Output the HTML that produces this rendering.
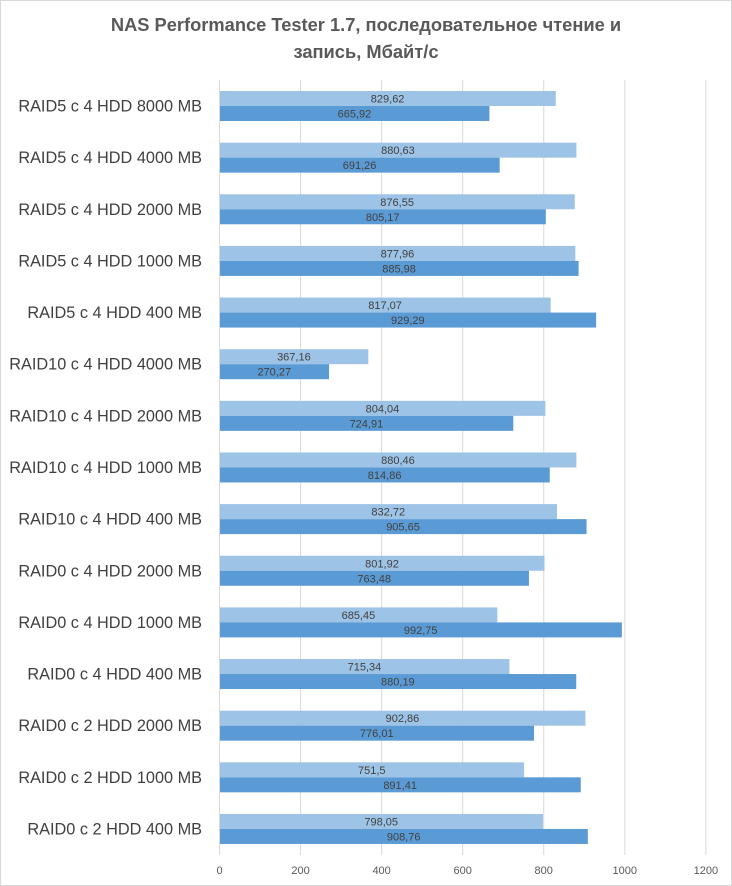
<!DOCTYPE html>
<html><head><meta charset="utf-8"><style>
html,body{margin:0;padding:0;background:#fff;}
svg{display:block;font-family:"Liberation Sans",sans-serif;}
</style></head><body>
<svg id="c" width="732" height="886" viewBox="0 0 732 886" xmlns="http://www.w3.org/2000/svg">
<rect x="0.5" y="0.5" width="731" height="885" fill="#fff" stroke="#d9d9d9"/>
<text x="366" y="31" text-anchor="middle" font-size="18.3" font-weight="bold" fill="#595959">NAS Performance Tester 1.7, последовательное чтение и</text>
<text x="366" y="58" text-anchor="middle" font-size="18.3" font-weight="bold" fill="#595959">запись, Мбайт/с</text>
</svg>
<script>
var s=document.getElementById('c'),NS='http://www.w3.org/2000/svg';
function el(t,a,txt){var e=document.createElementNS(NS,t);for(var k in a)e.setAttribute(k,a[k]);if(txt!=null)e.textContent=txt;s.appendChild(e);return e;}
var x0=219.5,sc=0.4053;
for(var v=0;v<=1200;v+=200){var x=x0+v*sc;el('line',{x1:x,y1:80,x2:x,y2:855,stroke:'#d9d9d9','stroke-width':1});
el('text',{x:x,y:874,'text-anchor':'middle','font-size':11,fill:'#595959'},String(v));}
var d=[["RAID5 с 4 HDD 8000 MB",829.62,665.92],["RAID5 с 4 HDD 4000 MB",880.63,691.26],["RAID5 с 4 HDD 2000 MB",876.55,805.17],["RAID5 с 4 HDD 1000 MB",877.96,885.98],["RAID5 с 4 HDD 400 MB",817.07,929.29],["RAID10 с 4 HDD 4000 MB",367.16,270.27],["RAID10 с 4 HDD 2000 MB",804.04,724.91],["RAID10 с 4 HDD 1000 MB",880.46,814.86],["RAID10 с 4 HDD 400 MB",832.72,905.65],["RAID0 с 4 HDD 2000 MB",801.92,763.48],["RAID0 с 4 HDD 1000 MB",685.45,992.75],["RAID0 с 4 HDD 400 MB",715.34,880.19],["RAID0 с 2 HDD 2000 MB",902.86,776.01],["RAID0 с 2 HDD 1000 MB",751.5,891.41],["RAID0 с 2 HDD 400 MB",798.05,908.76]];
function f(v){return String(v).replace('.',',');}
d.forEach(function(r,i){var y=91+51.64*i;
var w1=r[1]*sc,w2=r[2]*sc;
el('rect',{x:x0,y:y,width:w1,height:15,fill:'#9DC3E6'});
el('rect',{x:x0,y:y+15,width:w2,height:15,fill:'#5B9BD5'});
el('text',{x:x0+w1/2,y:y+11.5,'text-anchor':'middle','font-size':11,fill:'#404040'},f(r[1]));
el('text',{x:x0+w2/2,y:y+26.5,'text-anchor':'middle','font-size':11,fill:'#404040'},f(r[2]));
el('text',{x:202,y:y+20.5,'text-anchor':'end','font-size':16.3,fill:'#404040'},r[0]);
});
el('line',{x1:x0,y1:80,x2:x0,y2:855,stroke:'#d9d9d9','stroke-width':1});
</script>
</body></html>
